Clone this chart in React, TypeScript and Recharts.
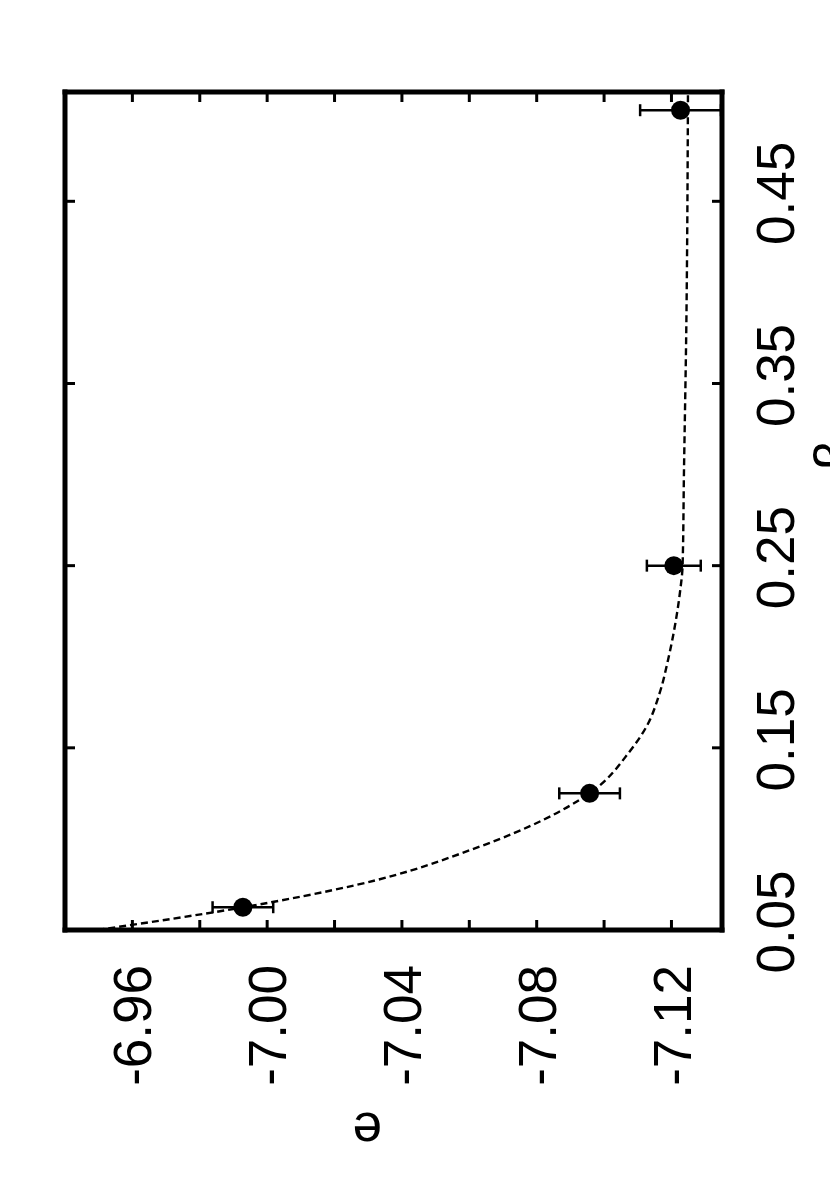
import { ComposedChart, ErrorBar, Scatter, XAxis, YAxis } from "recharts";

// tick values
const eTicks = [-6.96, -6.98, -7.0, -7.02, -7.04, -7.06, -7.08, -7.1, -7.12];
const betaTicks = [0.05, 0.15, 0.25, 0.35, 0.45];

// measured points with error in e
const pointBeta = [0.0625, 0.125, 0.25, 0.5];
const pointE = [-6.9928, -7.0957, -7.1207, -7.1227];
const pointErr = [0.009, 0.009, 0.008, 0.012];

// fitted curve
const fitBeta = [
  0.05, 0.0624, 0.0747, 0.0958, 0.1251, 0.148, 0.1617, 0.1801, 0.1984, 0.2167,
  0.235, 0.25, 0.3, 0.38, 0.51,
];
const fitE = [
  -6.9496, -6.9927, -7.0264, -7.0631, -7.0957, -7.1076, -7.1126, -7.1165,
  -7.119, -7.121, -7.1225, -7.1233, -7.1237, -7.1244, -7.1249,
];

const FONT = "'Liberation Sans', Arial, Helvetica, sans-serif";
const E_DOMAIN = [-7.135, -6.94];
const BETA_DOMAIN = [0.05, 0.51];

const points = pointBeta.map((b, i) => ({ beta: b, e: pointE[i], err: pointErr[i] }));
const fit = fitBeta.map((b, i) => ({ beta: b, e: fitE[i] }));

const frame = { stroke: "#000", strokeWidth: 5, strokeLinecap: "square" as const };
const tickMark = { stroke: "#000", strokeWidth: 3 };

function ETick(props: any) {
  const { x, y, payload } = props;
  const v = payload.value as number;
  if (Math.abs(Math.round(v * 100)) % 4 !== 0) return <g />;
  return (
    <text
      transform={`translate(${x},${y + 45}) rotate(-90)`}
      textAnchor="end"
      dy="0.36em"
      fontSize={53}
      fontFamily={FONT}
      fill="#000"
    >
      {v.toFixed(2)}
    </text>
  );
}

function BetaTick(props: any) {
  const { x, y, payload } = props;
  return (
    <text
      transform={`translate(${x + 63},${y - 8}) rotate(-90)`}
      textAnchor="middle"
      dy="0.36em"
      fontSize={53}
      fontFamily={FONT}
      fill="#000"
    >
      {(payload.value as number).toFixed(2)}
    </text>
  );
}

function ELabel(props: any) {
  const { x, y, width } = props.viewBox;
  return (
    <text
      transform={`translate(${x + width * 0.46},${y + 197}) rotate(180)`}
      textAnchor="middle"
      dy="0.26em"
      fontSize={53}
      fontFamily={FONT}
      fill="#000"
    >
      e
    </text>
  );
}

function BetaLabel(props: any) {
  const { x, y } = props.viewBox;
  return (
    <text
      transform={`translate(${x + 130},${y + 363}) rotate(-90)`}
      textAnchor="middle"
      fontSize={53}
      fontFamily={FONT}
      fill="#000"
    >
      β
    </text>
  );
}

const Dot = (p: any) => <circle cx={p.cx} cy={p.cy} r={9.5} fill="#000" />;
const Empty = () => <g />;

export default function App() {
  return (
    <div style={{ position: "absolute", left: 0, top: 0, width: 830, height: 1186, background: "#fff" }}>
      <ComposedChart width={830} height={1186} margin={{ top: 91, left: 64, right: 0, bottom: 0 }}>
        <XAxis
          xAxisId="e"
          dataKey="e"
          type="number"
          domain={E_DOMAIN}
          reversed
          allowDataOverflow
          ticks={eTicks}
          interval={0}
          height={256}
          tickSize={-10}
          tickMargin={0}
          axisLine={frame}
          tickLine={tickMark}
          tick={<ETick />}
          label={<ELabel />}
        />
        <XAxis
          xAxisId="top"
          dataKey="e"
          type="number"
          orientation="top"
          domain={E_DOMAIN}
          reversed
          allowDataOverflow
          ticks={eTicks}
          interval={0}
          height={1}
          tickSize={-10}
          tickMargin={0}
          axisLine={frame}
          tickLine={tickMark}
          tick={<Empty />}
        />
        <YAxis
          yAxisId="beta"
          dataKey="beta"
          type="number"
          orientation="right"
          domain={BETA_DOMAIN}
          allowDataOverflow
          ticks={betaTicks}
          interval={0}
          width={108}
          tickSize={-10}
          tickMargin={0}
          axisLine={frame}
          tickLine={tickMark}
          tick={<BetaTick />}
          label={<BetaLabel />}
        />
        <YAxis
          yAxisId="left"
          dataKey="beta"
          type="number"
          orientation="left"
          domain={BETA_DOMAIN}
          allowDataOverflow
          ticks={betaTicks}
          interval={0}
          width={1}
          tickSize={-10}
          tickMargin={0}
          axisLine={frame}
          tickLine={tickMark}
          tick={<Empty />}
        />
        <Scatter
          xAxisId="e"
          yAxisId="beta"
          data={fit}
          shape={Empty}
          line={{ stroke: "#000", strokeWidth: 2.4, strokeDasharray: "7 4" }}
          lineJointType="monotoneY"
          isAnimationActive={false}
        />
        <Scatter
          xAxisId="e"
          yAxisId="beta"
          data={points}
          shape={Dot}
          isAnimationActive={false}
        >
          <ErrorBar dataKey="err" direction="x" width={6} stroke="#000" strokeWidth={2.5} />
        </Scatter>
      </ComposedChart>
    </div>
  );
}
